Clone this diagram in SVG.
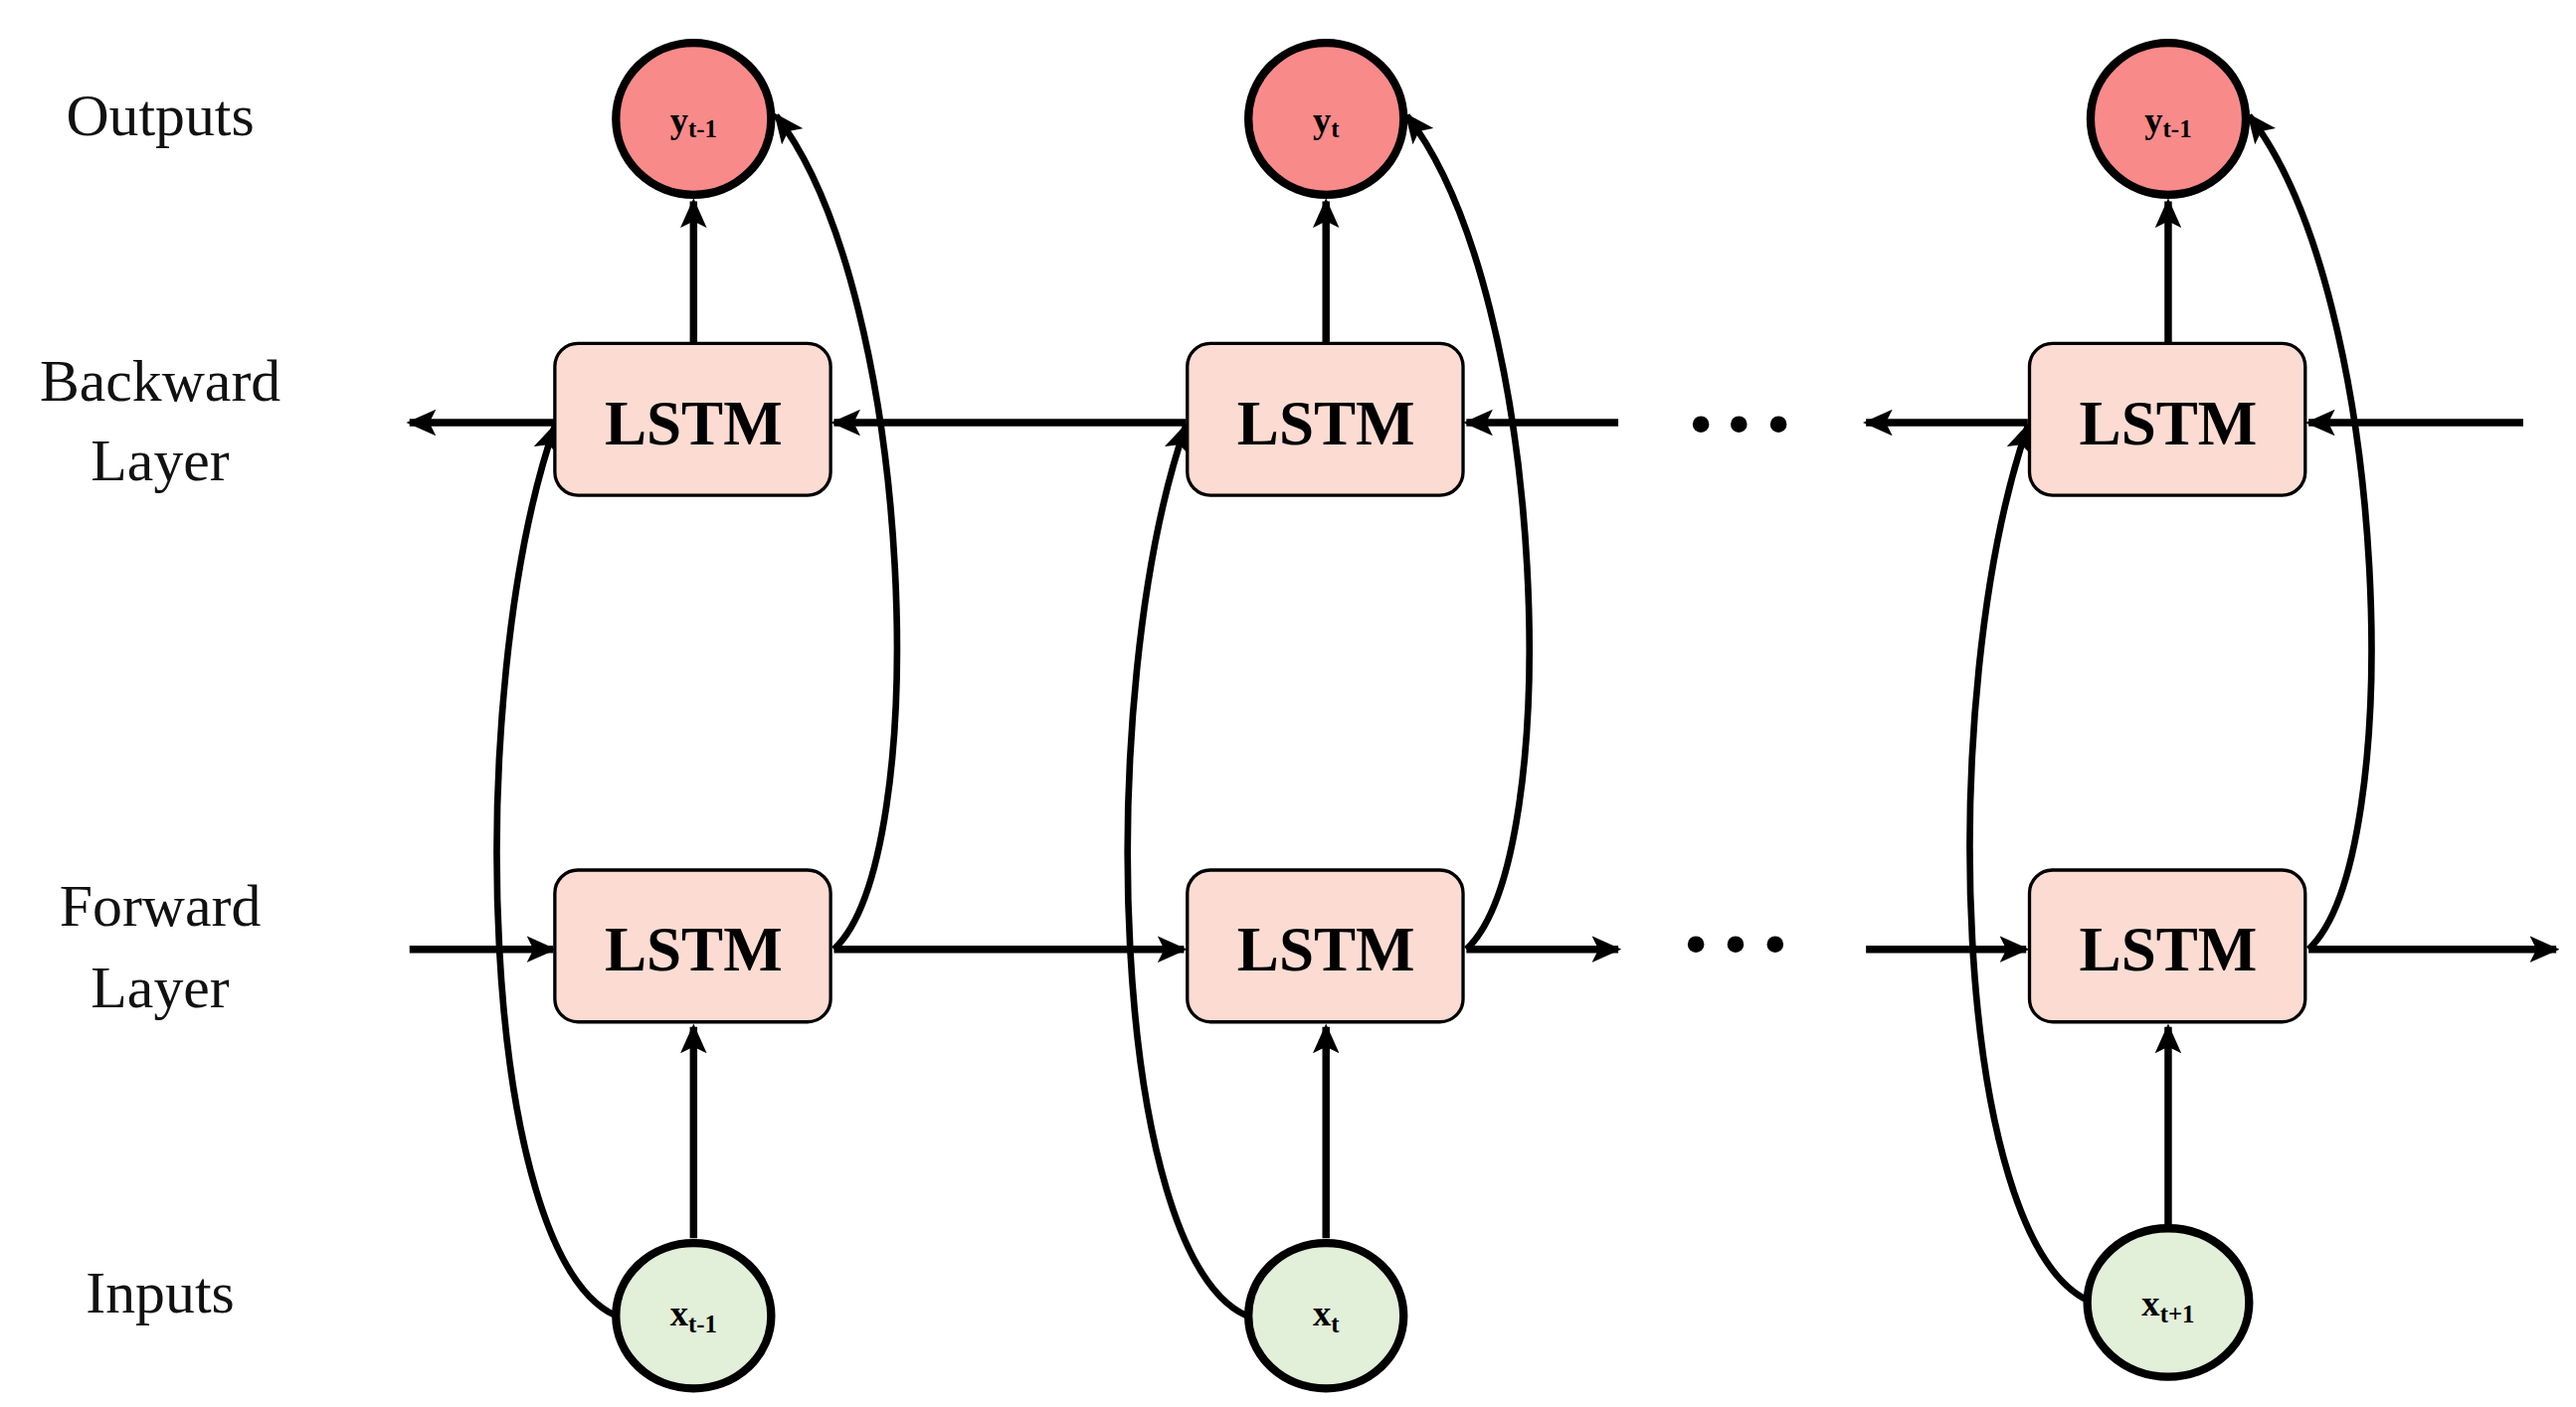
<svg xmlns="http://www.w3.org/2000/svg" width="2590" height="1415" viewBox="0 0 2590 1415">
<defs>
<marker id="ah" markerUnits="userSpaceOnUse" markerWidth="18" markerHeight="16" refX="16" refY="8" orient="auto"><path d="M0,0 L18,8 L0,16 L4,8 Z" fill="#000"/></marker>
<style>
.lbl{font-family:"Liberation Serif",serif;font-size:36px;text-anchor:middle;fill:#111}
.lstm{fill:#fcdcd2;stroke:#000;stroke-width:2}
.lt{font-family:"Liberation Serif",serif;font-size:38px;font-weight:bold;text-anchor:middle}
.out{fill:#f98a8a;stroke:#000;stroke-width:5}
.inp{fill:#e2efd9;stroke:#000;stroke-width:5}
.nt{font-family:"Liberation Serif",serif;font-size:22px;font-weight:bold;text-anchor:middle}
.c{fill:none;stroke:#000;stroke-width:4;marker-end:url(#ah)}
.h{fill:none;stroke:#000;stroke-width:4.5;marker-end:url(#ah)}
</style>
</defs>
<rect width="2590" height="1415" fill="#fff"/>
<g transform="scale(1.6603)">
<g id="labels">
<text class="lbl" x="97" y="82">Outputs</text>
<text class="lbl" x="97" y="243">Backward</text>
<text class="lbl" x="97" y="291">Layer</text>
<text class="lbl" x="97" y="561">Forward</text>
<text class="lbl" x="97" y="610">Layer</text>
<text class="lbl" x="97" y="795">Inputs</text>
</g>
<g id="connectors">
<path class="h" d="M420,208 V122"/>
<path class="h" d="M803,208 V122"/>
<path class="h" d="M1313,208 V122"/>
<path class="h" d="M420,750 V622"/>
<path class="h" d="M803,750 V622"/>
<path class="h" d="M1313,742 V622"/>
<path class="h" d="M336,256 H248"/>
<path class="h" d="M718,256 H505"/>
<path class="h" d="M980,256 H888"/>
<path class="h" d="M1228,256 H1130"/>
<path class="h" d="M1528,256 H1398"/>
<path class="h" d="M248,575 H335"/>
<path class="h" d="M505,575 H717"/>
<path class="h" d="M888,575 H980"/>
<path class="h" d="M1130,575 H1227"/>
<path class="h" d="M1398,575 H1548"/>
<path class="c" d="M373,797 C290,760 280,420 336,258"/>
<path class="c" d="M505,575 C565,520 555,180 470,70"/>
<path class="c" d="M755,797 C672,760 662,420 718,258"/>
<path class="c" d="M888,575 C948,520 938,180 852,70"/>
<path class="c" d="M1265,788 C1182,750 1172,420 1228,258"/>
<path class="c" d="M1398,575 C1458,520 1448,180 1362,70"/>
</g>
<g id="dots" fill="#000">
<circle cx="1030" cy="257" r="5"/><circle cx="1053" cy="257" r="5"/><circle cx="1077" cy="257" r="5"/>
<circle cx="1027" cy="572" r="5"/><circle cx="1051" cy="572" r="5"/><circle cx="1075" cy="572" r="5"/>
</g>
<g id="y1"><ellipse class="out" cx="420" cy="72" rx="47" ry="46"/><text class="nt" x="420" y="80">y<tspan font-size="15" dy="3">t-1</tspan></text></g>
<g id="y2"><ellipse class="out" cx="803" cy="72" rx="47" ry="46"/><text class="nt" x="803" y="80">y<tspan font-size="15" dy="3">t</tspan></text></g>
<g id="y3"><ellipse class="out" cx="1313" cy="72" rx="47" ry="46"/><text class="nt" x="1313" y="80">y<tspan font-size="15" dy="3">t-1</tspan></text></g>
<g id="b1"><rect class="lstm" x="336" y="208" width="167" height="92" rx="14"/><text class="lt" x="420" y="269">LSTM</text></g>
<g id="b2"><rect class="lstm" x="719" y="208" width="167" height="92" rx="14"/><text class="lt" x="803" y="269">LSTM</text></g>
<g id="b3"><rect class="lstm" x="1229" y="208" width="167" height="92" rx="14"/><text class="lt" x="1313" y="269">LSTM</text></g>
<g id="f1"><rect class="lstm" x="336" y="527" width="167" height="92" rx="14"/><text class="lt" x="420" y="588">LSTM</text></g>
<g id="f2"><rect class="lstm" x="719" y="527" width="167" height="92" rx="14"/><text class="lt" x="803" y="588">LSTM</text></g>
<g id="f3"><rect class="lstm" x="1229" y="527" width="167" height="92" rx="14"/><text class="lt" x="1313" y="588">LSTM</text></g>
<g id="x1"><ellipse class="inp" cx="420" cy="797" rx="47" ry="44"/><text class="nt" x="420" y="803">x<tspan font-size="15" dy="4">t-1</tspan></text></g>
<g id="x2"><ellipse class="inp" cx="803" cy="797" rx="47" ry="44"/><text class="nt" x="803" y="803">x<tspan font-size="15" dy="4">t</tspan></text></g>
<g id="x3"><ellipse class="inp" cx="1313" cy="789" rx="49" ry="45"/><text class="nt" x="1313" y="797">x<tspan font-size="15" dy="4">t+1</tspan></text></g>
</g>
</svg>
